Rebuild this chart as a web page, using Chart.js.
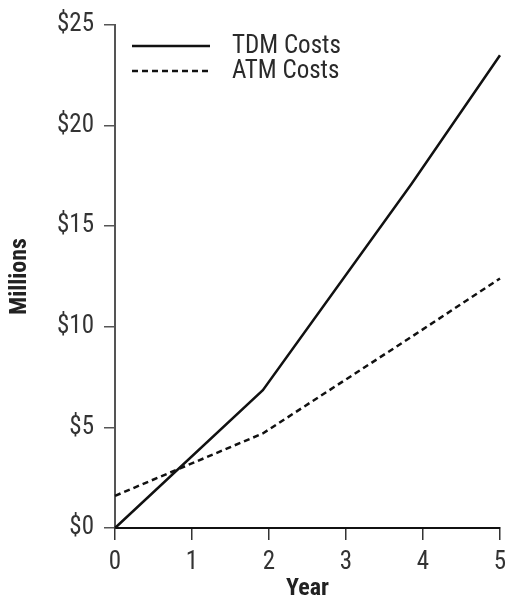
<!DOCTYPE html>
<html>
<head>
<meta charset="utf-8">
<script src="https://cdn.jsdelivr.net/npm/chart.js@4"></script>
<style>
  html, body { margin: 0; padding: 0; background: #fff; }
  #wrap { width: 509px; height: 603px; }
</style>
</head>
<body>
<div id="wrap"><canvas id="myChart" width="509" height="603"></canvas></div>
<script>
// values (x = year, y = $ millions)
const years = [0, 1.92, 3.85, 5]
const tdmCosts = [0, 6.85, 17.1, 23.5]
const atmCosts = [1.6, 4.7, 9.5, 12.4]
const seriesNames = ['TDM Costs', 'ATM Costs']
const yTicks = [0, 5, 10, 15, 20, 25]
const xTicks = [0, 1, 2, 3, 4, 5]

const fontFamily = "'Liberation Sans Narrow', 'Arial Narrow', 'Roboto Condensed', sans-serif"

function toPoints(xs, ys) {
  return xs.map((x, i) => ({ x: x, y: ys[i] }))
}

// legend drawn inside the plot, top left, like the original
const insideLegend = {
  id: 'insideLegend',
  afterDatasetsDraw(chart) {
    const ctx = chart.ctx
    const area = chart.chartArea
    ctx.save()
    chart.data.datasets.forEach((ds, i) => {
      let y = area.top + 21 + i * 25
      let x0 = area.left + 17
      ctx.beginPath()
      ctx.setLineDash(ds.borderDash || [])
      ctx.lineWidth = ds.borderWidth
      ctx.strokeStyle = ds.borderColor
      ctx.moveTo(x0, y)
      ctx.lineTo(x0 + 78, y)
      ctx.stroke()
      ctx.setLineDash([])
      ctx.fillStyle = '#2a2a2a'
      ctx.font = '25px ' + fontFamily
      ctx.textBaseline = 'middle'
      ctx.fillText(ds.label, x0 + 100, y + 1)
    })
    ctx.restore()
  }
}

const data = {
  datasets: [{
    label: seriesNames[0],
    data: toPoints(years, tdmCosts),
    borderColor: '#111',
    borderWidth: 2.5,
    pointRadius: 0,
    tension: 0,
    clip: false
  }, {
    label: seriesNames[1],
    data: toPoints(years, atmCosts),
    borderColor: '#111',
    borderWidth: 2.5,
    borderDash: [6, 4],
    pointRadius: 0,
    tension: 0,
    clip: false
  }]
}

const config = {
  type: 'line',
  data,
  options: {
    responsive: false,
    animation: false,
    layout: { padding: { top: 10, right: 9, left: 6, bottom: 0 } },
    plugins: {
      legend: { display: false },
      tooltip: { enabled: false }
    },
    scales: {
      x: {
        type: 'linear',
        min: 0,
        max: 5,
        afterBuildTicks: s => { s.ticks = xTicks.map(v => ({ value: v })) },
        ticks: { color: '#333', font: { family: fontFamily, size: 25 }, padding: 8 },
        grid: { drawOnChartArea: false, drawTicks: true, tickLength: 12, color: '#333', lineWidth: 1.5 },
        border: { display: true, color: '#111', width: 2 },
        title: { display: true, text: 'Year', color: '#222', font: { family: fontFamily, size: 24, weight: 'bold' }, padding: 0 },
        afterFit: s => { s.height = 75; s.paddingRight = 0 }
      },
      y: {
        min: 0,
        max: 25,
        afterBuildTicks: s => { s.ticks = yTicks.map(v => ({ value: v })) },
        ticks: { color: '#333', font: { family: fontFamily, size: 25 }, padding: 10, callback: v => '$' + v },
        grid: { drawOnChartArea: false, drawTicks: true, tickLength: 11, color: '#555', lineWidth: 1.5 },
        border: { display: true, color: '#555', width: 2 },
        title: { display: true, text: 'Millions', color: '#222', font: { family: fontFamily, size: 24, weight: 'bold' }, padding: 0 },
        afterFit: s => { s.width = 109 }
      }
    }
  },
  plugins: [insideLegend]
}

var myChart = new Chart(document.getElementById('myChart'), config)
</script>
</body>
</html>
